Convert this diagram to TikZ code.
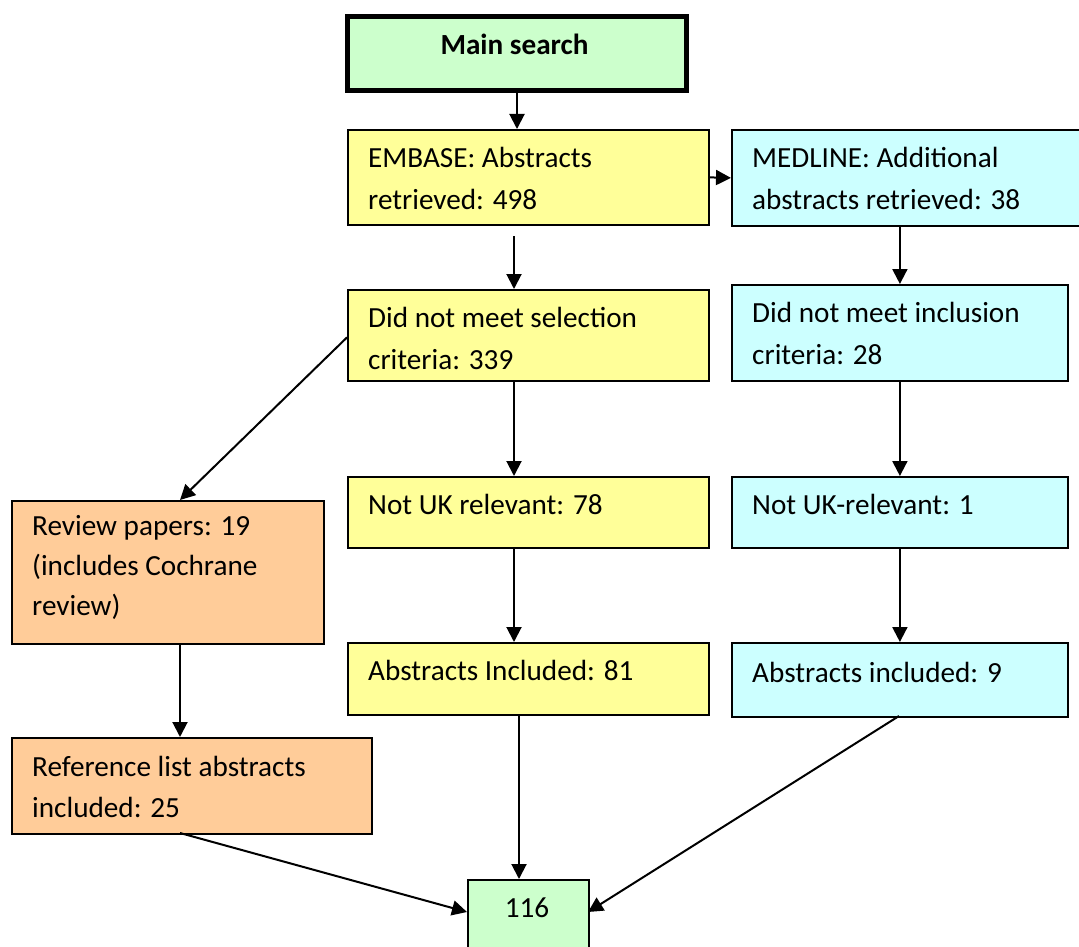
\documentclass[tikz,border=0pt]{standalone}
\usepackage{fontspec}
\setmainfont{Carlito}
\usetikzlibrary{arrows.meta}
\definecolor{bgreen}{HTML}{CCFFCC}
\definecolor{byellow}{HTML}{FFFF99}
\definecolor{bcyan}{HTML}{CCFFFF}
\definecolor{borange}{HTML}{FFCC99}
\tikzset{
  box/.style={draw=black, line width=1.8pt, rectangle, inner sep=0pt, anchor=north west},
  ybox/.style={box, fill=byellow},
  cbox/.style={box, fill=bcyan},
  obox/.style={box, fill=borange},
  gbox/.style={box, fill=bgreen},
  txt/.style={anchor=base west, align=left, inner sep=0pt, font=\fontsize{29.2}{41.5}\selectfont},
  arr/.style={line width=2pt, -{Triangle[length=15pt,width=15pt]}}
}
\begin{document}
\begin{tikzpicture}[x=1pt,y=-1pt]
\useasboundingbox (0,0) rectangle (1079,947);
% boxes
\node[gbox, line width=5pt, minimum width=339pt, minimum height=74pt] (main) at (345,14) {};
\node[anchor=base, inner sep=0pt, font=\fontsize{29.2}{35}\selectfont\bfseries] (maint) at (514.5,55) {Main search};
\node[ybox, minimum width=361pt, minimum height=95pt] (embase) at (347,129) {};
\node[cbox, minimum width=352pt, minimum height=96pt] (medline) at (731,129) {};
\node[ybox, minimum width=361pt, minimum height=91pt] (dnm) at (347,289) {};
\node[cbox, minimum width=336pt, minimum height=96pt] (dnmi) at (731,284) {};
\node[ybox, minimum width=361pt, minimum height=71pt] (nuk) at (347,476) {};
\node[cbox, minimum width=336pt, minimum height=71pt] (nuk1) at (731,476) {};
\node[ybox, minimum width=361pt, minimum height=72pt] (ai81) at (347,642) {};
\node[cbox, minimum width=336pt, minimum height=74pt] (ai9) at (731,642) {};
\node[obox, minimum width=312pt, minimum height=143pt] (review) at (11,500) {};
\node[obox, minimum width=360pt, minimum height=96pt] (ref) at (11,737) {};
\node[gbox, minimum width=121pt, minimum height=90pt] (res) at (467,879) {};
% texts (anchor = baseline of last line)
\node[txt] (embaset) at ([shift={(21,80)}]embase.north west) {EMBASE: Abstracts\\retrieved: 498};
\node[txt] (medlinet) at ([shift={(21,80)}]medline.north west) {MEDLINE: Additional\\abstracts retrieved: 38};
\node[txt] (dnmt) at ([shift={(21,80)}]dnm.north west) {Did not meet selection\\criteria: 339};
\node[txt] (dnmit) at ([shift={(21,80)}]dnmi.north west) {Did not meet inclusion\\criteria: 28};
\node[txt] (nukt) at ([shift={(21,38.5)}]nuk.north west) {Not UK relevant: 78};
\node[txt] (nuk1t) at ([shift={(21,38.5)}]nuk1.north west) {Not UK-relevant: 1};
\node[txt] (ai81t) at ([shift={(21,38.5)}]ai81.north west) {Abstracts Included: 81};
\node[txt] (ai9t) at ([shift={(21,40.5)}]ai9.north west) {Abstracts included: 9};
\node[txt, font=\fontsize{29.2}{40}\selectfont] (reviewt) at ([shift={(21,115)}]review.north west) {Review papers: 19\\(includes Cochrane\\review)};
\node[txt] (reft) at ([shift={(21,80.5)}]ref.north west) {Reference list abstracts\\included: 25};
\node[anchor=base, inner sep=0pt, font=\fontsize{29.2}{35}\selectfont] (rest) at (527,917) {116};
% helper coordinates
\coordinate (g1) at (514,236);
\coordinate (rvx) at (180,0);
\coordinate (refout) at (180,833);
\coordinate (resw) at (467,912);
\coordinate (rese) at (588,912);
\coordinate (ai81out) at (519,714);
\coordinate (ai9out) at (899,716);
% connectors
\draw[arr] (main.south) -- (main.south |- embase.north);
\draw[arr] (embase.east) -- (medline.west);
\draw[arr] (g1) -- (g1 |- dnm.north);
\draw[arr] (dnmi.north |- medline.south) -- (dnmi.north);
\draw[arr] (g1 |- dnm.south) -- (g1 |- nuk.north);
\draw[arr] (g1 |- nuk.south) -- (g1 |- ai81.north);
\draw[arr] (dnmi.south) -- (nuk1.north);
\draw[arr] (nuk1.south) -- (ai9.north);
\draw[arr] ([yshift=-2pt]dnm.west) -- (rvx |- review.north);
\draw[arr] (rvx |- review.south) -- (rvx |- ref.north);
\draw[arr] (refout) -- (resw);
\draw[arr] (ai81out) -- (ai81out |- res.north);
\draw[arr] (ai9out) -- (rese);
\end{tikzpicture}
\end{document}
